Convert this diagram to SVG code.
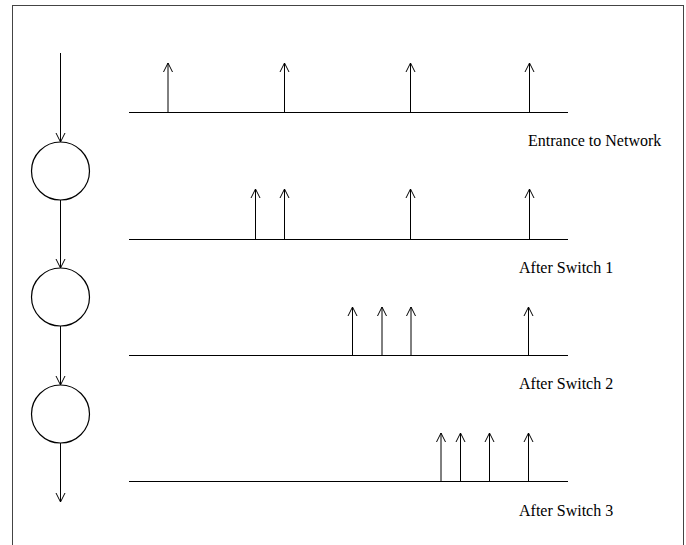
<svg xmlns="http://www.w3.org/2000/svg" width="686" height="545" viewBox="0 0 686 545">
<style>
.ln{stroke:#000;stroke-width:1;fill:none}
.node{stroke:#000;stroke-width:1.2;fill:#fff}
.lbl{font-family:"Liberation Serif","Times New Roman",serif;font-size:16px;fill:#000}
</style>
<defs>
<marker id="ah" markerUnits="userSpaceOnUse" markerWidth="14" markerHeight="14" refX="10" refY="5" orient="auto" overflow="visible">
<path d="M1,0.5 L10,5 L1,9.5" fill="none" stroke="#000" stroke-width="1"/>
</marker>
</defs>
<rect x="12.5" y="5.5" width="671" height="545" fill="#fff" stroke="#444" stroke-width="1"/>
<g id="timelines">
<line class="ln" x1="129" y1="112.5" x2="568" y2="112.5"/>
<line class="ln" x1="129" y1="239.5" x2="568" y2="239.5"/>
<line class="ln" x1="129" y1="355.5" x2="568" y2="355.5"/>
<line class="ln" x1="129" y1="481.5" x2="568" y2="481.5"/>
</g>
<g id="pulses">
<line class="ln" x1="168" y1="112" x2="168" y2="63" marker-end="url(#ah)"/>
<line class="ln" x1="284.5" y1="112" x2="284.5" y2="63" marker-end="url(#ah)"/>
<line class="ln" x1="410.5" y1="112" x2="410.5" y2="63" marker-end="url(#ah)"/>
<line class="ln" x1="529.5" y1="112" x2="529.5" y2="63" marker-end="url(#ah)"/>
<line class="ln" x1="255.5" y1="239" x2="255.5" y2="189" marker-end="url(#ah)"/>
<line class="ln" x1="284.5" y1="239" x2="284.5" y2="189" marker-end="url(#ah)"/>
<line class="ln" x1="410.5" y1="239" x2="410.5" y2="189" marker-end="url(#ah)"/>
<line class="ln" x1="529.5" y1="239" x2="529.5" y2="189" marker-end="url(#ah)"/>
<line class="ln" x1="352.5" y1="355" x2="352.5" y2="307" marker-end="url(#ah)"/>
<line class="ln" x1="382" y1="355" x2="382" y2="307" marker-end="url(#ah)"/>
<line class="ln" x1="411" y1="355" x2="411" y2="307" marker-end="url(#ah)"/>
<line class="ln" x1="528.5" y1="355" x2="528.5" y2="307" marker-end="url(#ah)"/>
<line class="ln" x1="441" y1="481" x2="441" y2="433" marker-end="url(#ah)"/>
<line class="ln" x1="460.5" y1="481" x2="460.5" y2="433" marker-end="url(#ah)"/>
<line class="ln" x1="489.5" y1="481" x2="489.5" y2="433" marker-end="url(#ah)"/>
<line class="ln" x1="528.5" y1="481" x2="528.5" y2="433" marker-end="url(#ah)"/>
</g>
<g id="connectors">
<line class="ln" x1="60.5" y1="53" x2="60.5" y2="142" marker-end="url(#ah)"/>
<line class="ln" x1="60.5" y1="200" x2="60.5" y2="268" marker-end="url(#ah)"/>
<line class="ln" x1="60.5" y1="326" x2="60.5" y2="385" marker-end="url(#ah)"/>
<line class="ln" x1="60.5" y1="443" x2="60.5" y2="502" marker-end="url(#ah)"/>
</g>
<g id="switch1"><circle class="node" cx="60.5" cy="171" r="29"/></g>
<g id="switch2"><circle class="node" cx="60.5" cy="297" r="29"/></g>
<g id="switch3"><circle class="node" cx="60.5" cy="414" r="29"/></g>
<g id="labels">
<text class="lbl" x="528" y="146">Entrance to Network</text>
<text class="lbl" x="519" y="273">After Switch 1</text>
<text class="lbl" x="519" y="389">After Switch 2</text>
<text class="lbl" x="519" y="516">After Switch 3</text>
</g>
</svg>
